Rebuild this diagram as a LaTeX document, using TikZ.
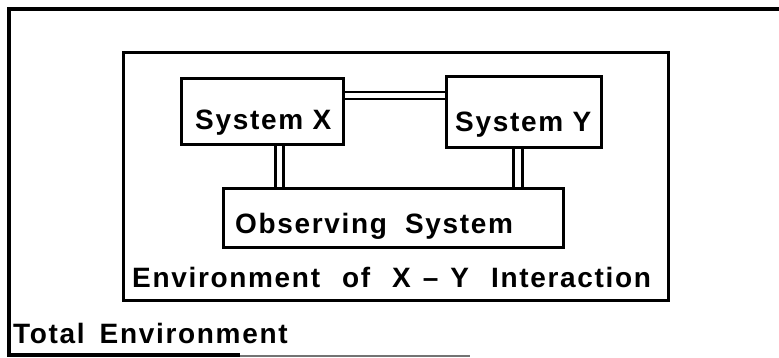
\documentclass[tikz,border=0pt]{standalone}
\usepackage{fontspec}
\setmainfont{Liberation Sans}[LetterSpace=6.0]
\usetikzlibrary{calc}
\tikzset{
  box/.style={draw=black, line width=3.4pt, fill=white, inner sep=0pt, anchor=north west},
  lbl/.style={inner sep=0pt, anchor=base west, font=\fontsize{28}{32}\selectfont\bfseries},
  dbl/.style={draw=black, line width=2.6pt, double=white, double distance=4.6pt},
  dblv/.style={draw=black, line width=3pt, double=white, double distance=5.5pt},
}
\newcommand{\gap}{\hspace{22pt}}
\newcommand{\sgap}{\hspace{12pt}}
\begin{document}
\begin{tikzpicture}[x=1pt, y=-1pt]
  \useasboundingbox (0,0) rectangle (779,357);
  % total environment: open to the right
  \draw[line width=3.8pt] (790,9) -- (9,9) -- (9,355) -- (240,355);
  \draw[line width=2pt, black!55] (240,355.5) -- (470,355.5);
  \node[lbl] (tot) at (13,343) {Total\hspace{15pt}Environment};

  % environment of the interaction
  \node[box, minimum width=545pt, minimum height=248pt] (env) at (122,51) {};
  \node[lbl] (envl) at (132,287) {Environment\gap of\gap X\sgap--\sgap Y\gap Interaction};

  % the two systems and the observer
  \node[box, minimum width=162pt, minimum height=66pt] (sx) at (180,77) {};
  \node[box, minimum width=155pt, minimum height=71pt] (sy) at (445,75) {};
  \node[box, minimum width=340pt, minimum height=59pt] (obs) at (222,187) {};

  \node[lbl] (sxl) at (195,129) {System X};
  \node[lbl] (syl) at (455,131) {System Y};
  \node[lbl] (obsl) at (235,233) {Observing\hspace{18pt}System};

  % double-line couplings
  \coordinate (hy) at (0,95.5);
  \coordinate (vx) at (279.5,0);
  \coordinate (vy) at (518,0);
  \draw[dbl] (sx.east |- hy) -- (sy.west |- hy);
  \draw[dblv] (sx.south -| vx) -- (obs.north -| vx);
  \draw[dblv] (sy.south -| vy) -- (obs.north -| vy);
\end{tikzpicture}
\end{document}
